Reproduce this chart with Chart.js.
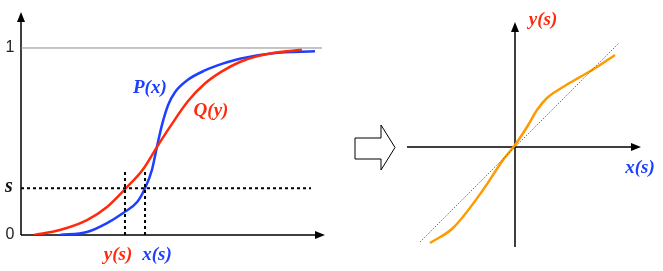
<!DOCTYPE html>
<html>
<head>
<meta charset="utf-8">
<script src="https://cdn.jsdelivr.net/npm/chart.js@4.4.1/dist/chart.umd.min.js"></script>
<style>
  html, body { margin: 0; padding: 0; background: #fff; }
  #wrap { position: relative; width: 663px; height: 271px; }
  canvas { position: absolute; top: 0; }
  #cdf { left: 0; }
  #qq { left: 340px; }
</style>
</head>
<body>
<div id="wrap">
  <canvas id="cdf" width="340" height="271"></canvas>
  <canvas id="qq" width="323" height="271"></canvas>
</div>
<script>
// left panel: cumulative curves
const qX = [0.43, 1.28, 2.17, 2.83, 3.45, 4.01, 4.47, 4.9, 5.49, 6.05, 6.61, 7.2, 7.76, 8.52, 9.24];
const qY = [0, 0.027, 0.08, 0.15, 0.25, 0.35, 0.47, 0.578, 0.715, 0.81, 0.875, 0.925, 0.955, 0.978, 0.99];
const pX = [1.28, 2.17, 2.83, 3.36, 3.82, 4.08, 4.31, 4.47, 4.64, 4.84, 5.07, 5.49, 6.05, 6.61, 7.2, 8.29, 9.67];
const pY = [0, 0.016, 0.064, 0.118, 0.176, 0.25, 0.35, 0.47, 0.59, 0.695, 0.765, 0.83, 0.88, 0.915, 0.943, 0.972, 0.982];
const sLevel = 0.25;
const ysAt = 3.42;   // y(s)
const xsAt = 4.08;   // x(s)
const yTickValues = [0, sLevel, 1];
const yTickLabels = ['0', 's', '1'];

// right panel: y(s) against x(s)
const qqX = [-0.85, -0.62, -0.32, -0.12, 0, 0.12, 0.22, 0.32, 0.48, 0.65, 0.82, 1.0];
const qqY = [-0.96, -0.81, -0.43, -0.13, 0.02, 0.2, 0.37, 0.49, 0.6, 0.7, 0.8, 0.92];
const diagX = [-0.95, 1.04];

const RED = '#ff2a0c';
const BLUE = '#1f3fff';
const ORANGE = '#ff9a00';
const LABEL_FONT = 'bold italic 19px "Liberation Serif", "DejaVu Serif", serif';

function zip(xs, ys) {
    return xs.map((x, i) => ({ x: x, y: ys[i] }));
}

function arrowHead(ctx, x, y, dir) {
    // dir: 'up' or 'right'
    ctx.beginPath();
    if (dir === 'up') {
        ctx.moveTo(x, y);
        ctx.lineTo(x - 4, y + 10);
        ctx.lineTo(x + 4, y + 10);
    } else {
        ctx.moveTo(x, y);
        ctx.lineTo(x - 10, y - 4);
        ctx.lineTo(x - 10, y + 4);
    }
    ctx.closePath();
    ctx.fillStyle = '#000';
    ctx.fill();
}

function text(ctx, str, x, y, font, color) {
    ctx.font = font;
    ctx.fillStyle = color;
    ctx.textAlign = 'center';
    ctx.textBaseline = 'middle';
    ctx.fillText(str, x, y);
}

const cdfAxes = {
    id: 'cdfAxes',
    beforeDatasetsDraw(chart) {
        const ctx = chart.ctx;
        const xs = chart.scales.x, ys = chart.scales.y;
        const x0 = xs.getPixelForValue(0), y0 = ys.getPixelForValue(0);
        ctx.save();
        ctx.strokeStyle = '#000';
        ctx.lineWidth = 1.5;
        ctx.beginPath();
        ctx.moveTo(x0, y0);
        ctx.lineTo(x0, chart.chartArea.top + 6);
        ctx.moveTo(x0, y0);
        ctx.lineTo(chart.chartArea.right - 6, y0);
        ctx.stroke();
        arrowHead(ctx, x0, chart.chartArea.top, 'up');
        arrowHead(ctx, chart.chartArea.right, y0, 'right');
        ctx.restore();
    },
    afterDatasetsDraw(chart) {
        const ctx = chart.ctx;
        const xs = chart.scales.x, ys = chart.scales.y;
        ctx.save();
        yTickValues.forEach((v, i) => {
            const py = ys.getPixelForValue(v);
            const lab = yTickLabels[i];
            if (lab === 's') {
                text(ctx, lab, 9, py - 1, 'bold italic 20px "Liberation Serif", serif', '#111');
            } else {
                text(ctx, lab, 10, py, '16px "Liberation Sans", Arial, sans-serif', '#222');
            }
        });
        const base = ys.getPixelForValue(0) + 20;
        text(ctx, 'y(s)', xs.getPixelForValue(ysAt) - 7, base, LABEL_FONT, RED);
        text(ctx, 'x(s)', xs.getPixelForValue(xsAt) + 12, base, LABEL_FONT, BLUE);
        text(ctx, 'P(x)', xs.getPixelForValue(4.24), ys.getPixelForValue(0.786), LABEL_FONT, BLUE);
        text(ctx, 'Q(y)', xs.getPixelForValue(6.25), ys.getPixelForValue(0.663), LABEL_FONT, RED);
        ctx.restore();
    }
};

const qqAxes = {
    id: 'qqAxes',
    beforeDatasetsDraw(chart) {
        const ctx = chart.ctx;
        const xs = chart.scales.x, ys = chart.scales.y;
        const ox = xs.getPixelForValue(0), oy = ys.getPixelForValue(0);
        const a = chart.chartArea;
        ctx.save();
        ctx.strokeStyle = '#000';
        ctx.lineWidth = 1.5;
        ctx.beginPath();
        ctx.moveTo(ox, a.bottom);
        ctx.lineTo(ox, a.top + 6);
        ctx.moveTo(a.left, oy);
        ctx.lineTo(a.right - 6, oy);
        ctx.stroke();
        arrowHead(ctx, ox, a.top, 'up');
        arrowHead(ctx, a.right, oy, 'right');

        // hollow arrow between the two panels
        ctx.beginPath();
        ctx.moveTo(15, 138);
        ctx.lineTo(41, 138);
        ctx.lineTo(41, 125);
        ctx.lineTo(55, 147.5);
        ctx.lineTo(41, 170);
        ctx.lineTo(41, 159);
        ctx.lineTo(15, 159);
        ctx.closePath();
        ctx.fillStyle = '#fff';
        ctx.fill();
        ctx.lineWidth = 1;
        ctx.stroke();
        ctx.restore();
    },
    afterDatasetsDraw(chart) {
        const ctx = chart.ctx;
        const xs = chart.scales.x, ys = chart.scales.y;
        ctx.save();
        text(ctx, 'y(s)', xs.getPixelForValue(0.28), chart.chartArea.top - 2, LABEL_FONT, RED);
        text(ctx, 'x(s)', chart.chartArea.right - 1, ys.getPixelForValue(0) + 21, LABEL_FONT, BLUE);
        ctx.restore();
    }
};

const common = {
    responsive: false,
    animation: false,
    events: [],
    plugins: { legend: { display: false }, tooltip: { enabled: false } },
    elements: { point: { radius: 0 } }
};

new Chart(document.getElementById('cdf'), {
    type: 'scatter',
    data: {
        datasets: [
            { data: [{ x: 0, y: 1 }, { x: 9.9, y: 1 }], showLine: true, borderColor: '#8a8a8a', borderWidth: 1 },
            { data: [{ x: 0, y: sLevel }, { x: 9.54, y: sLevel }], showLine: true, borderColor: '#000', borderWidth: 2, borderDash: [3, 3] },
            { data: [{ x: ysAt, y: 0 }, { x: ysAt, y: 0.35 }], showLine: true, borderColor: '#000', borderWidth: 2, borderDash: [3, 3] },
            { data: [{ x: xsAt, y: 0 }, { x: xsAt, y: 0.35 }], showLine: true, borderColor: '#000', borderWidth: 2, borderDash: [3, 3] },
            { data: zip(qX, qY), showLine: true, borderColor: RED, borderWidth: 2.5, cubicInterpolationMode: 'monotone' },
            { data: zip(pX, pY), showLine: true, borderColor: BLUE, borderWidth: 2.5, cubicInterpolationMode: 'monotone' }
        ]
    },
    options: Object.assign({}, common, {
        layout: { padding: { left: 21, right: 15, top: 12, bottom: 36 } },
        scales: {
            x: { type: 'linear', min: 0, max: 10, display: false },
            y: { type: 'linear', min: 0, max: 1.1925, display: false }
        }
    }),
    plugins: [cdfAxes]
});

new Chart(document.getElementById('qq'), {
    type: 'scatter',
    data: {
        datasets: [
            { data: zip(diagX, diagX), showLine: true, borderColor: '#6f6f6f', borderWidth: 1, borderDash: [1.5, 1.5] },
            { data: zip(qqX, qqY), showLine: true, borderColor: ORANGE, borderWidth: 2.5, cubicInterpolationMode: 'monotone' }
        ]
    },
    options: Object.assign({}, common, {
        layout: { padding: { left: 67, right: 22, top: 22, bottom: 24 } },
        scales: {
            x: { type: 'linear', min: -1.08, max: 1.26, display: false },
            y: { type: 'linear', min: -1.0, max: 1.25, display: false }
        }
    }),
    plugins: [qqAxes]
});
</script>
</body>
</html>
